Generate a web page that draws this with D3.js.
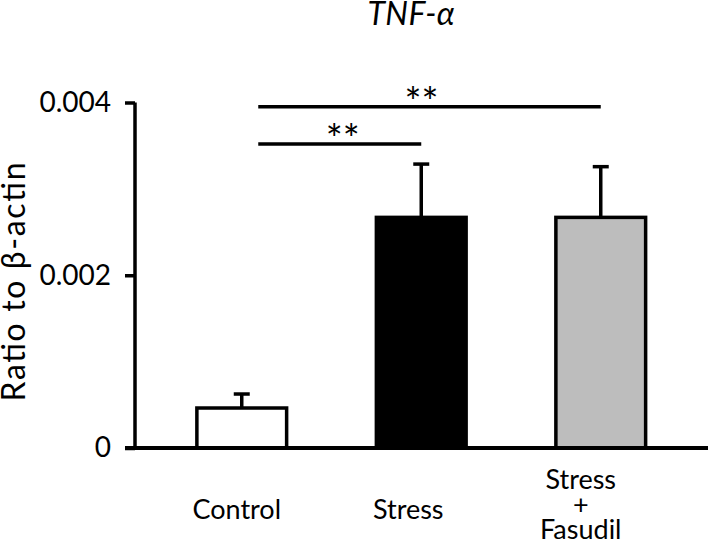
<!DOCTYPE html>
<html>
<head>
<meta charset="utf-8">
<script src="https://cdn.jsdelivr.net/npm/d3@7"></script>
<style>
html,body{margin:0;padding:0;background:#fff;}
text{font-family:Lato,"Open Sans",sans-serif;fill:#000;}
</style>
</head>
<body>
<svg id="chart" width="709" height="543"></svg>
<script>
// ---- data ----
const categories = ["Control", "Stress", "Stress+Fasudil"];
const categoryLabels = [["Control"], ["Stress"], ["Stress", "+", "Fasudil"]];
const means = [0.000463, 0.00267, 0.00267];
const errors = [0.000162, 0.000617, 0.000587];
const fills = ["#ffffff", "#000000", "#bdbdbd"];
const tickValues = [0, 0.002, 0.004];
const tickLabels = ["0", "0.002", "0.004"];
const sigFrom = ["Control", "Control"];
const sigTo = ["Stress+Fasudil", "Stress"];
const sigLevel = [0.00395, 0.00352];
const sigMark = ["**", "**"];

// ---- layout ----
const svg = d3.select("#chart");
const axisX = 135, baseY = 448, topY = 102.5;
const labelShift = [-5, -13, -20];

const x = d3.scaleBand().domain(categories).range([152, 690.5])
  .paddingInner(0.5).paddingOuter(0.25);
const y = d3.scaleLinear().domain([0, 0.004]).range([baseY, topY]);

// title
svg.append("text").attr("x", 411).attr("y", 25).attr("text-anchor", "middle")
  .attr("textLength", 87).attr("lengthAdjust", "spacing")
  .style("font-size", "32px").style("font-style", "italic").text("TNF-α");

// y axis title
svg.append("text").attr("transform", "translate(25,282) rotate(-90)")
  .attr("text-anchor", "middle").attr("textLength", 239).attr("lengthAdjust", "spacing")
  .style("font-size", "32px").text("Ratio to β-actin");

// bars
const g = svg.append("g");
g.selectAll("rect.bar").data(categories).enter().append("rect")
  .attr("class", "bar")
  .attr("x", d => x(d))
  .attr("y", (d, i) => y(means[i]))
  .attr("width", x.bandwidth())
  .attr("height", (d, i) => y(0) - y(means[i]))
  .attr("fill", (d, i) => fills[i])
  .attr("stroke", "#000").attr("stroke-width", 3.5);

// error bars
const cx = d => x(d) + x.bandwidth() / 2;
g.selectAll("line.err").data(categories).enter().append("line")
  .attr("x1", cx).attr("x2", cx)
  .attr("y1", (d, i) => y(means[i]))
  .attr("y2", (d, i) => y(means[i] + errors[i]))
  .attr("stroke", "#000").attr("stroke-width", 3.5);
g.selectAll("line.cap").data(categories).enter().append("line")
  .attr("x1", d => cx(d) - 8).attr("x2", d => cx(d) + 8)
  .attr("y1", (d, i) => y(means[i] + errors[i]))
  .attr("y2", (d, i) => y(means[i] + errors[i]))
  .attr("stroke", "#000").attr("stroke-width", 3.5);

// y axis
const yAxis = d3.axisLeft(y).tickValues(tickValues).tickSize(10).tickPadding(14)
  .tickFormat((d, i) => tickLabels[i]);
const ya = svg.append("g").attr("transform", `translate(${axisX},0)`).call(yAxis);
ya.select(".domain").attr("stroke", "#000").attr("stroke-width", 3.5)
  .attr("d", `M0,${topY}V${baseY}`);
ya.selectAll(".tick line").attr("stroke", "#000").attr("stroke-width", 3.5);
ya.selectAll(".tick text").style("font-size", "28px").style("font-family", "Lato,'Open Sans',sans-serif").attr("fill", "#000");

// baseline
svg.append("line").attr("x1", axisX - 10).attr("x2", 708)
  .attr("y1", y(0)).attr("y2", y(0)).attr("stroke", "#000").attr("stroke-width", 4);

// category labels
categories.forEach((c, i) => {
  const lines = categoryLabels[i];
  const lh = 25;
  const y0 = lines.length === 1 ? 519 : 489;
  const t = svg.append("text").attr("text-anchor", "middle").style("font-size", "27px");
  lines.forEach((l, j) => {
    t.append("tspan").attr("x", cx(c) + labelShift[i]).attr("y", y0 + j * lh).text(l);
  });
});

// significance
sigFrom.forEach((f, i) => {
  const x1 = cx(f) + 16.5, x2 = cx(sigTo[i]);
  svg.append("line").attr("x1", x1).attr("x2", x2)
    .attr("y1", y(sigLevel[i])).attr("y2", y(sigLevel[i]))
    .attr("stroke", "#000").attr("stroke-width", 3.5);
  svg.append("text").attr("x", (x1 + x2) / 2 + (i === 0 ? -8 : 3)).attr("y", y(sigLevel[i]) + 10)
    .attr("text-anchor", "middle").style("font-size", "40px")
    .style("letter-spacing", "0px").text(sigMark[i]);
});
</script>
</body>
</html>
